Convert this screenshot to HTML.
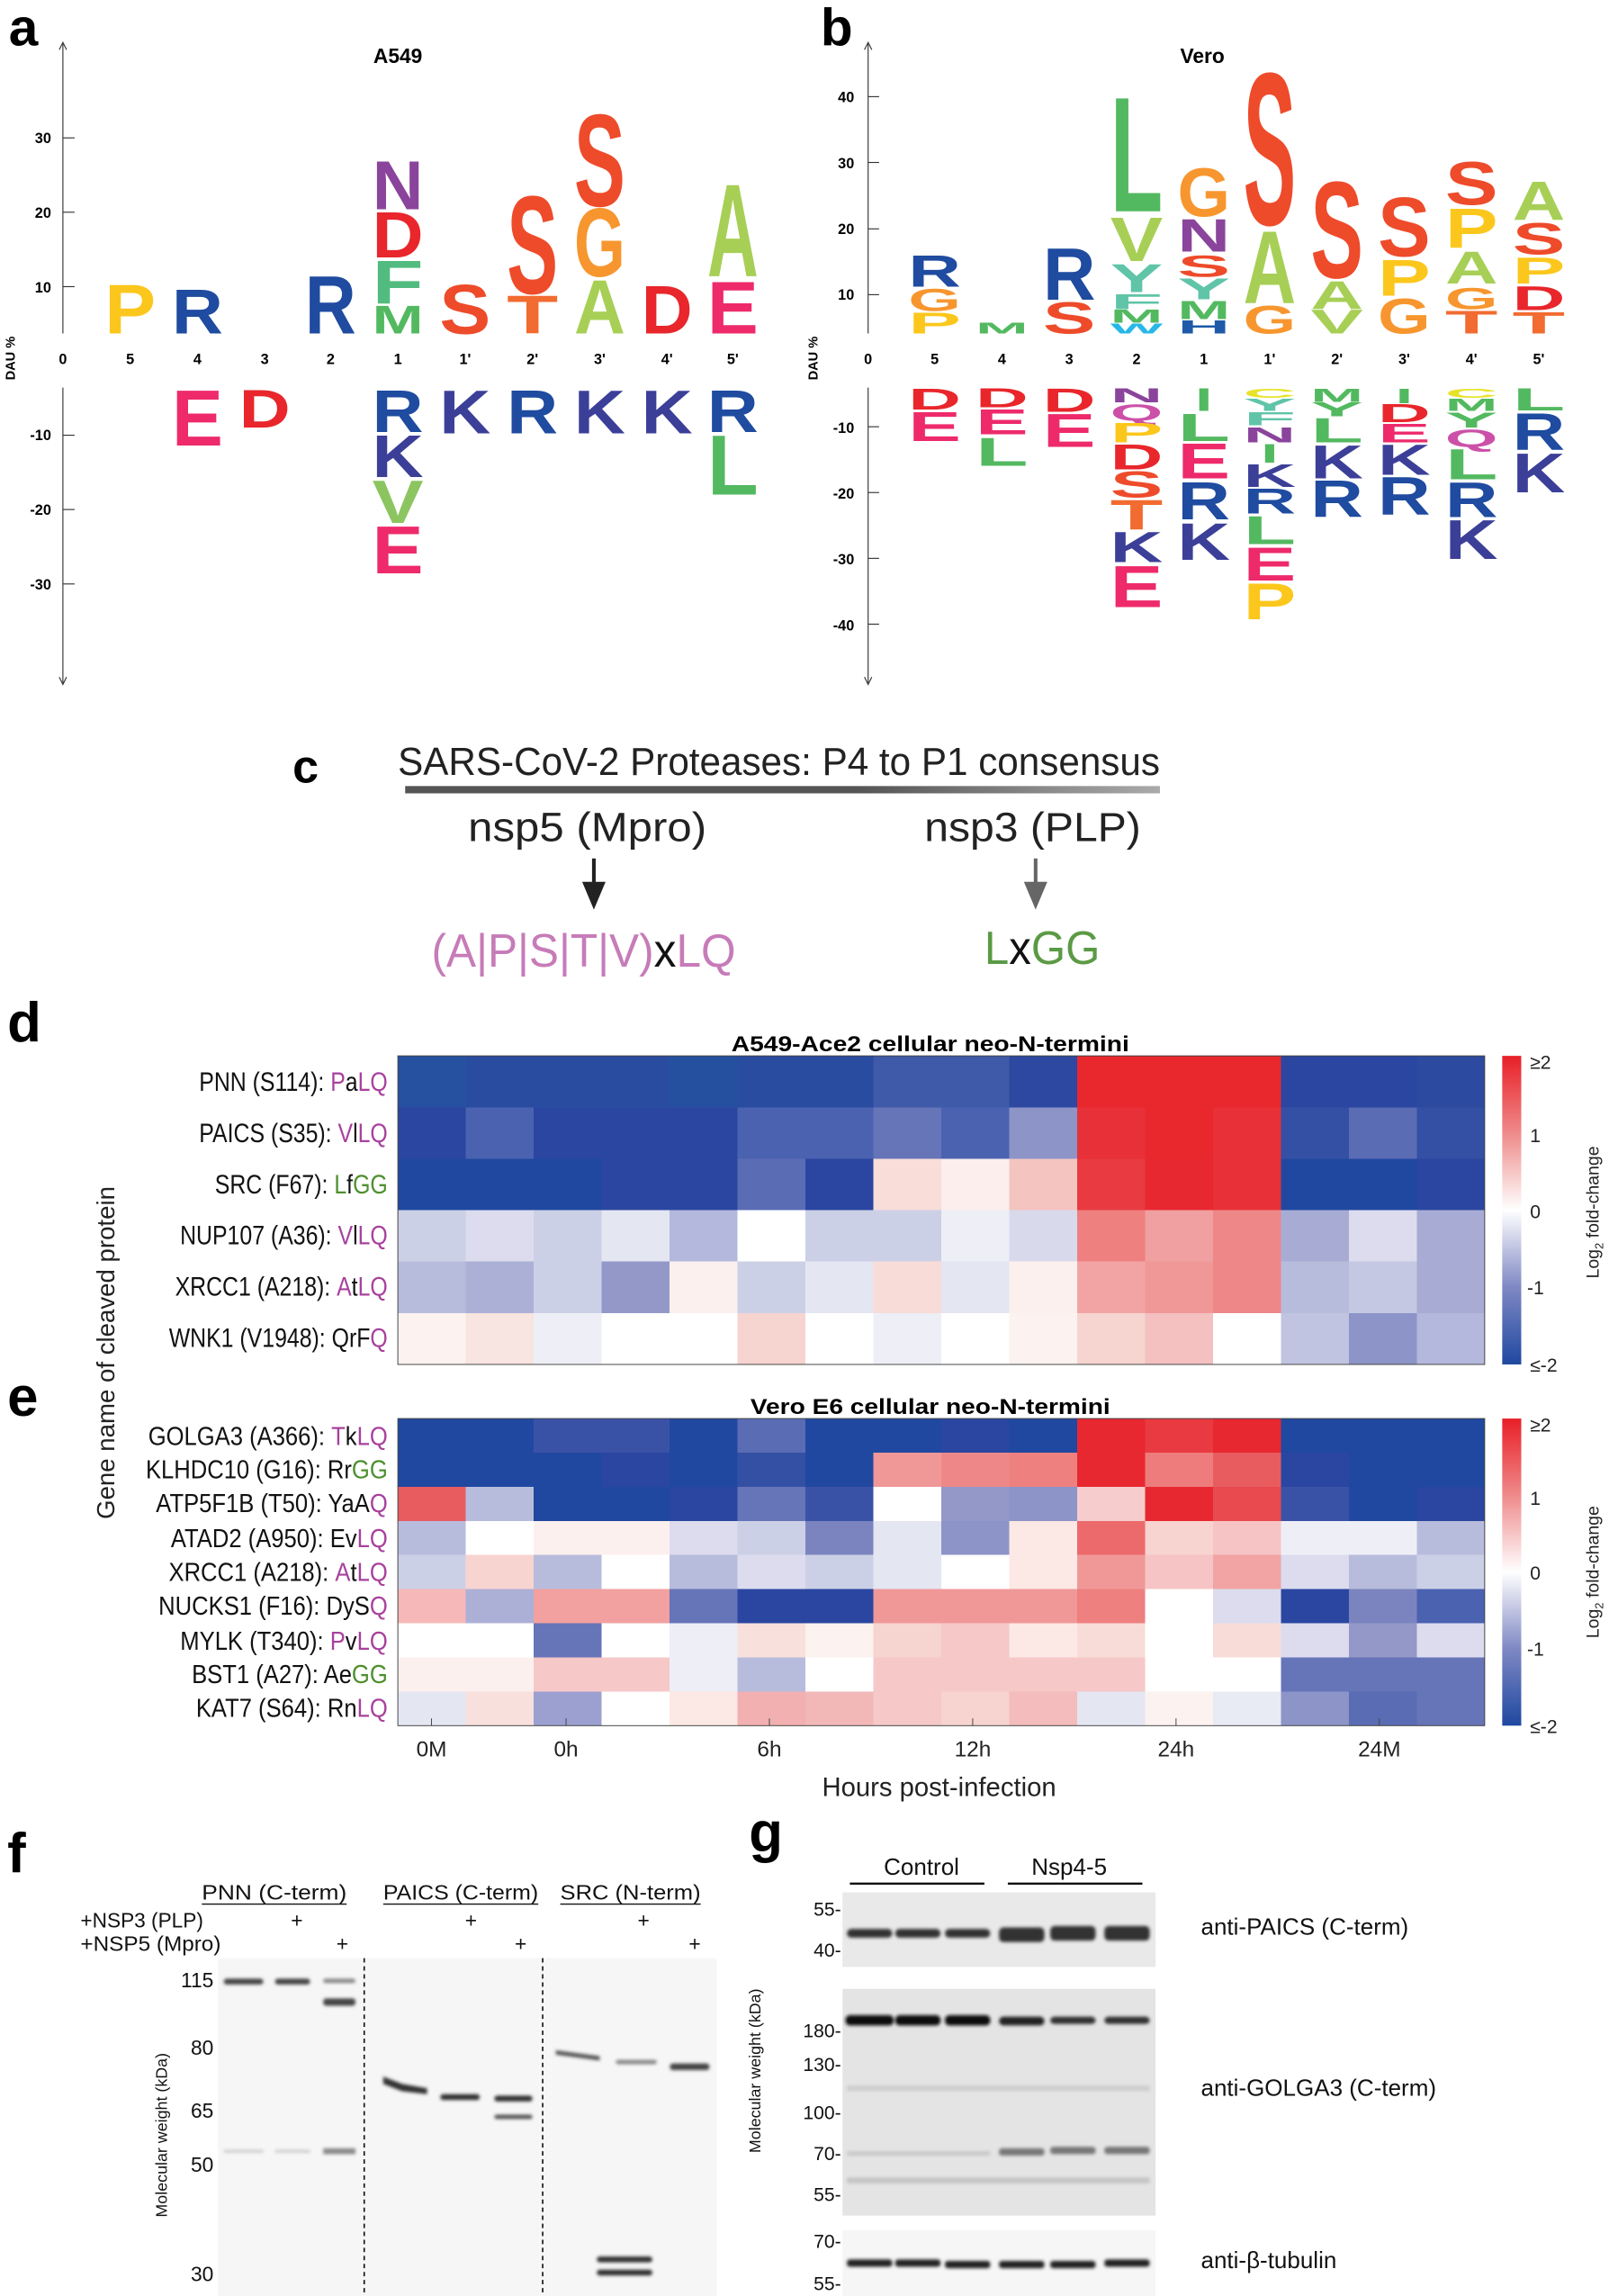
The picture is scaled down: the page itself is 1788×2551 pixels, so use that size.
<!DOCTYPE html>
<html><head><meta charset="utf-8"><style>
html,body{margin:0;padding:0;background:#fff}
svg{display:block}
.l{font-family:"Liberation Sans",sans-serif;font-weight:bold}
.t{font-family:"Liberation Sans",sans-serif}
</style></head><body>
<svg width="1788" height="2551" viewBox="0 0 1100 1570" preserveAspectRatio="none" xmlns="http://www.w3.org/2000/svg">
<defs>
<linearGradient id="cb" x1="0" y1="0" x2="0" y2="1"><stop offset="0" stop-color="#e81f27"/><stop offset="0.25" stop-color="#ef8a8a"/><stop offset="0.5" stop-color="#ffffff"/><stop offset="0.75" stop-color="#7f88c4"/><stop offset="1" stop-color="#1f48a0"/></linearGradient>
<linearGradient id="bar" x1="0" y1="0" x2="1" y2="0"><stop offset="0" stop-color="#555"/><stop offset="0.6" stop-color="#555"/><stop offset="1" stop-color="#aaa"/></linearGradient>
<filter id="bl" x="-20%" y="-200%" width="140%" height="500%"><feGaussianBlur stdDeviation="1.2"/></filter>
</defs>

<!-- Panel a -->
<text class="l" x="6" y="31" font-size="36">a</text>
<text class="l" x="272" y="43" font-size="14" text-anchor="middle">A549</text>
<g stroke="#333" stroke-width="0.7" fill="none">
<line x1="43" y1="30" x2="43" y2="228"/><line x1="43" y1="265" x2="43" y2="467"/>
<polyline points="40.5,34 43,29 45.5,34"/><polyline points="40.5,463 43,468 45.5,463"/>
<line x1="43" y1="94.3" x2="51" y2="94.3"/><line x1="43" y1="145.1" x2="51" y2="145.1"/><line x1="43" y1="196" x2="51" y2="196"/>
<line x1="43" y1="297.6" x2="51" y2="297.6"/><line x1="43" y1="348.4" x2="51" y2="348.4"/><line x1="43" y1="399.3" x2="51" y2="399.3"/>
</g>
<g class="l" font-size="10" text-anchor="end">
<text x="35" y="98">30</text><text x="35" y="149">20</text><text x="35" y="200">10</text>
<text x="35" y="301">-10</text><text x="35" y="352">-20</text><text x="35" y="403">-30</text>
</g>
<text class="l" font-size="9" transform="translate(10,245) rotate(-90)" text-anchor="middle">DAU %</text>
<g class="l" font-size="10" text-anchor="middle">
<text x="43" y="249">0</text><text x="89" y="249">5</text><text x="135" y="249">4</text><text x="181" y="249">3</text><text x="226" y="249">2</text><text x="272" y="249">1</text><text x="318" y="249">1'</text><text x="364" y="249">2'</text><text x="410" y="249">3'</text><text x="456" y="249">4'</text><text x="501" y="249">5'</text>
</g>
<g class="l">
<text x="71.5" y="228.1" font-size="48.1" textLength="35" lengthAdjust="spacingAndGlyphs" fill="#fcc71c">P</text>
<text x="117.5" y="228.1" font-size="43.3" textLength="35" lengthAdjust="spacingAndGlyphs" fill="#1f4ba0">R</text>
<text x="117.5" y="304.7" font-size="54" textLength="35" lengthAdjust="spacingAndGlyphs" fill="#ee2a6b">E</text>
<text x="163.5" y="292.4" font-size="36.9" textLength="35" lengthAdjust="spacingAndGlyphs" fill="#e8262b">D</text>
<text x="208.5" y="228.1" font-size="56.5" textLength="35" lengthAdjust="spacingAndGlyphs" fill="#1f4ba0">R</text>
<text x="254.5" y="228.1" font-size="27.6" textLength="35" lengthAdjust="spacingAndGlyphs" fill="#53b960">M</text>
<text x="254.5" y="207.6" font-size="42.5" textLength="35" lengthAdjust="spacingAndGlyphs" fill="#52bb7f">F</text>
<text x="254.5" y="176.1" font-size="44.7" textLength="35" lengthAdjust="spacingAndGlyphs" fill="#e8262b">D</text>
<text x="254.5" y="143" font-size="47.6" textLength="35" lengthAdjust="spacingAndGlyphs" fill="#8a449b">N</text>
<text x="254.5" y="295.5" font-size="41.3" textLength="35" lengthAdjust="spacingAndGlyphs" fill="#1f4ba0">R</text>
<text x="254.5" y="326.1" font-size="41.3" textLength="35" lengthAdjust="spacingAndGlyphs" fill="#3c3f98">K</text>
<text x="254.5" y="357.6" font-size="41.7" textLength="35" lengthAdjust="spacingAndGlyphs" fill="#8cc560">V</text>
<text x="254.5" y="391.9" font-size="46" textLength="35" lengthAdjust="spacingAndGlyphs" fill="#ee2a6b">E</text>
<text x="300.5" y="228.1" font-size="48" textLength="35" lengthAdjust="spacingAndGlyphs" fill="#ee4b2b">S</text>
<text x="300.5" y="296.4" font-size="42.5" textLength="35" lengthAdjust="spacingAndGlyphs" fill="#3c3f98">K</text>
<text x="346.5" y="228.1" font-size="37" textLength="35" lengthAdjust="spacingAndGlyphs" fill="#f26b30">T</text>
<text x="346.5" y="200.6" font-size="95.7" textLength="35" lengthAdjust="spacingAndGlyphs" fill="#ee4b2b">S</text>
<text x="346.5" y="296.4" font-size="42.5" textLength="35" lengthAdjust="spacingAndGlyphs" fill="#1f4ba0">R</text>
<text x="392.5" y="228.1" font-size="52.4" textLength="35" lengthAdjust="spacingAndGlyphs" fill="#a7cf56">A</text>
<text x="392.5" y="188.9" font-size="66.8" textLength="35" lengthAdjust="spacingAndGlyphs" fill="#f7962e">G</text>
<text x="392.5" y="140.8" font-size="90" textLength="35" lengthAdjust="spacingAndGlyphs" fill="#ee4b2b">S</text>
<text x="392.5" y="296.4" font-size="42.5" textLength="35" lengthAdjust="spacingAndGlyphs" fill="#3c3f98">K</text>
<text x="438.5" y="228.1" font-size="46.8" textLength="35" lengthAdjust="spacingAndGlyphs" fill="#e8262b">D</text>
<text x="438.5" y="296.4" font-size="42.5" textLength="35" lengthAdjust="spacingAndGlyphs" fill="#3c3f98">K</text>
<text x="483.5" y="228.1" font-size="51" textLength="35" lengthAdjust="spacingAndGlyphs" fill="#ee2a6b">E</text>
<text x="483.5" y="188.9" font-size="90.5" textLength="35" lengthAdjust="spacingAndGlyphs" fill="#a7cf56">A</text>
<text x="483.5" y="295.5" font-size="41.3" textLength="35" lengthAdjust="spacingAndGlyphs" fill="#1f4ba0">R</text>
<text x="483.5" y="338.3" font-size="58.2" textLength="35" lengthAdjust="spacingAndGlyphs" fill="#53b960">L</text>
</g>

<!-- Panel b -->
<text class="l" x="561" y="31" font-size="36">b</text>
<text class="l" x="822" y="43" font-size="14" text-anchor="middle">Vero</text>
<g stroke="#333" stroke-width="0.7" fill="none">
<line x1="593.5" y1="30" x2="593.5" y2="228"/><line x1="593.5" y1="265" x2="593.5" y2="467"/>
<polyline points="591,34 593.5,29 596,34"/><polyline points="591,463 593.5,468 596,463"/>
<line x1="593.5" y1="66.1" x2="601" y2="66.1"/><line x1="593.5" y1="111.1" x2="601" y2="111.1"/><line x1="593.5" y1="156.5" x2="601" y2="156.5"/><line x1="593.5" y1="201.5" x2="601" y2="201.5"/>
<line x1="593.5" y1="291.8" x2="601" y2="291.8"/><line x1="593.5" y1="336.8" x2="601" y2="336.8"/><line x1="593.5" y1="381.8" x2="601" y2="381.8"/><line x1="593.5" y1="426.8" x2="601" y2="426.8"/>
</g>
<g class="l" font-size="10" text-anchor="end">
<text x="584" y="70">40</text><text x="584" y="115">30</text><text x="584" y="160">20</text><text x="584" y="205">10</text>
<text x="584" y="296">-10</text><text x="584" y="341">-20</text><text x="584" y="386">-30</text><text x="584" y="431">-40</text>
</g>
<text class="l" font-size="9" transform="translate(559,245) rotate(-90)" text-anchor="middle">DAU %</text>
<g class="l" font-size="10" text-anchor="middle">
<text x="593.5" y="249">0</text><text x="639" y="249">5</text><text x="685" y="249">4</text><text x="731" y="249">3</text><text x="777" y="249">2</text><text x="823" y="249">1</text><text x="868" y="249">1'</text><text x="914" y="249">2'</text><text x="960" y="249">3'</text><text x="1006" y="249">4'</text><text x="1052" y="249">5'</text>
</g>
<g class="l">
<text x="621" y="228.1" font-size="20.4" textLength="36" lengthAdjust="spacingAndGlyphs" fill="#fcc71c">P</text>
<text x="621" y="212.5" font-size="21.7" textLength="36" lengthAdjust="spacingAndGlyphs" fill="#f7962e">G</text>
<text x="621" y="196" font-size="30.7" textLength="36" lengthAdjust="spacingAndGlyphs" fill="#1f4ba0">R</text>
<text x="621" y="279.9" font-size="20.4" textLength="36" lengthAdjust="spacingAndGlyphs" fill="#e8262b">D</text>
<text x="621" y="301.6" font-size="28.5" textLength="36" lengthAdjust="spacingAndGlyphs" fill="#ee2a6b">E</text>
<text x="667" y="228.1" font-size="10.6" textLength="36" lengthAdjust="spacingAndGlyphs" fill="#53b960">M</text>
<text x="667" y="278.6" font-size="18.6" textLength="36" lengthAdjust="spacingAndGlyphs" fill="#e8262b">D</text>
<text x="667" y="297" font-size="24.3" textLength="36" lengthAdjust="spacingAndGlyphs" fill="#ee2a6b">E</text>
<text x="667" y="318.4" font-size="27.6" textLength="36" lengthAdjust="spacingAndGlyphs" fill="#53b960">L</text>
<text x="713" y="228.1" font-size="31" textLength="36" lengthAdjust="spacingAndGlyphs" fill="#ee4b2b">S</text>
<text x="713" y="205.1" font-size="50.6" textLength="36" lengthAdjust="spacingAndGlyphs" fill="#1f4ba0">R</text>
<text x="713" y="281.7" font-size="22.9" textLength="36" lengthAdjust="spacingAndGlyphs" fill="#e8262b">D</text>
<text x="713" y="305.6" font-size="32.4" textLength="36" lengthAdjust="spacingAndGlyphs" fill="#ee2a6b">E</text>
<text x="759" y="228.1" font-size="9.7" textLength="36" lengthAdjust="spacingAndGlyphs" fill="#27b7e8">W</text>
<text x="759" y="220.5" font-size="12.8" textLength="36" lengthAdjust="spacingAndGlyphs" fill="#53b960">M</text>
<text x="759" y="211.3" font-size="14.9" textLength="36" lengthAdjust="spacingAndGlyphs" fill="#5fc4a8">F</text>
<text x="759" y="199.6" font-size="27.6" textLength="36" lengthAdjust="spacingAndGlyphs" fill="#5fc4a8">Y</text>
<text x="759" y="178.5" font-size="42.9" textLength="36" lengthAdjust="spacingAndGlyphs" fill="#a7cf56">V</text>
<text x="759" y="144.5" font-size="112.2" textLength="36" lengthAdjust="spacingAndGlyphs" fill="#53b960">L</text>
<text x="759" y="275" font-size="13.6" textLength="36" lengthAdjust="spacingAndGlyphs" fill="#8a449b">N</text>
<text x="759" y="287.8" font-size="16.1" textLength="36" lengthAdjust="spacingAndGlyphs" fill="#cc50a8">Q</text>
<text x="759" y="302.5" font-size="19.6" textLength="36" lengthAdjust="spacingAndGlyphs" fill="#fcc71c">P</text>
<text x="759" y="320.9" font-size="24.7" textLength="36" lengthAdjust="spacingAndGlyphs" fill="#e8262b">D</text>
<text x="759" y="339.9" font-size="25.6" textLength="36" lengthAdjust="spacingAndGlyphs" fill="#ee4b2b">S</text>
<text x="759" y="362.2" font-size="29.3" textLength="36" lengthAdjust="spacingAndGlyphs" fill="#f26b30">T</text>
<text x="759" y="384.3" font-size="29.9" textLength="36" lengthAdjust="spacingAndGlyphs" fill="#3c3f98">K</text>
<text x="759" y="415.2" font-size="40.8" textLength="36" lengthAdjust="spacingAndGlyphs" fill="#ee2a6b">E</text>
<text x="805" y="228.1" font-size="12.8" textLength="36" lengthAdjust="spacingAndGlyphs" fill="#1e5aa8">H</text>
<text x="805" y="218.3" font-size="17.8" textLength="36" lengthAdjust="spacingAndGlyphs" fill="#53b960">M</text>
<text x="805" y="204.5" font-size="20.4" textLength="36" lengthAdjust="spacingAndGlyphs" fill="#5fc4a8">Y</text>
<text x="805" y="189.2" font-size="21.3" textLength="36" lengthAdjust="spacingAndGlyphs" fill="#ee4b2b">S</text>
<text x="805" y="172.1" font-size="31.9" textLength="36" lengthAdjust="spacingAndGlyphs" fill="#8a449b">N</text>
<text x="805" y="147.9" font-size="47.2" textLength="36" lengthAdjust="spacingAndGlyphs" fill="#f7962e">G</text>
<text x="817" y="281.1" font-size="22.1" textLength="12" lengthAdjust="spacingAndGlyphs" fill="#53b960">I</text>
<text x="805" y="301.6" font-size="26.8" textLength="36" lengthAdjust="spacingAndGlyphs" fill="#53b960">L</text>
<text x="805" y="327" font-size="34" textLength="36" lengthAdjust="spacingAndGlyphs" fill="#ee2a6b">E</text>
<text x="805" y="355.2" font-size="36.3" textLength="36" lengthAdjust="spacingAndGlyphs" fill="#1f4ba0">R</text>
<text x="805" y="382.7" font-size="36.1" textLength="36" lengthAdjust="spacingAndGlyphs" fill="#3c3f98">K</text>
<text x="850" y="228.1" font-size="27.6" textLength="36" lengthAdjust="spacingAndGlyphs" fill="#f7962e">G</text>
<text x="850" y="207.3" font-size="70.6" textLength="36" lengthAdjust="spacingAndGlyphs" fill="#a7cf56">A</text>
<text x="850" y="153.4" font-size="148.9" textLength="36" lengthAdjust="spacingAndGlyphs" fill="#ee4b2b">S</text>
<text x="850" y="271.9" font-size="9.3" textLength="36" lengthAdjust="spacingAndGlyphs" fill="#e6e32a">C</text>
<text x="850" y="281.1" font-size="11.9" textLength="36" lengthAdjust="spacingAndGlyphs" fill="#5fc4a8">Y</text>
<text x="850" y="290.9" font-size="12.8" textLength="36" lengthAdjust="spacingAndGlyphs" fill="#5fc4a8">F</text>
<text x="850" y="302.5" font-size="14.9" textLength="36" lengthAdjust="spacingAndGlyphs" fill="#8a449b">N</text>
<text x="862" y="316.3" font-size="18.3" textLength="12" lengthAdjust="spacingAndGlyphs" fill="#53b960">I</text>
<text x="850" y="333.1" font-size="22.1" textLength="36" lengthAdjust="spacingAndGlyphs" fill="#3c3f98">K</text>
<text x="850" y="351.2" font-size="24.3" textLength="36" lengthAdjust="spacingAndGlyphs" fill="#1f4ba0">R</text>
<text x="850" y="372" font-size="27.6" textLength="36" lengthAdjust="spacingAndGlyphs" fill="#53b960">L</text>
<text x="850" y="397.1" font-size="32.8" textLength="36" lengthAdjust="spacingAndGlyphs" fill="#ee2a6b">E</text>
<text x="850" y="423.5" font-size="35.4" textLength="36" lengthAdjust="spacingAndGlyphs" fill="#fcc71c">P</text>
<text x="896" y="228.1" font-size="23.3" textLength="36" lengthAdjust="spacingAndGlyphs" fill="#a7cf56">V</text>
<text x="896" y="211.3" font-size="27.6" textLength="36" lengthAdjust="spacingAndGlyphs" fill="#a7cf56">A</text>
<text x="896" y="189.8" font-size="94.3" textLength="36" lengthAdjust="spacingAndGlyphs" fill="#ee4b2b">S</text>
<text x="896" y="274.7" font-size="13.2" textLength="36" lengthAdjust="spacingAndGlyphs" fill="#53b960">M</text>
<text x="896" y="284.8" font-size="13.6" textLength="36" lengthAdjust="spacingAndGlyphs" fill="#53b960">Y</text>
<text x="896" y="302.5" font-size="23.8" textLength="36" lengthAdjust="spacingAndGlyphs" fill="#53b960">L</text>
<text x="896" y="327" font-size="32.4" textLength="36" lengthAdjust="spacingAndGlyphs" fill="#3c3f98">K</text>
<text x="896" y="353.6" font-size="36.1" textLength="36" lengthAdjust="spacingAndGlyphs" fill="#1f4ba0">R</text>
<text x="942" y="228.1" font-size="34" textLength="36" lengthAdjust="spacingAndGlyphs" fill="#f7962e">G</text>
<text x="942" y="202.1" font-size="35.3" textLength="36" lengthAdjust="spacingAndGlyphs" fill="#fcc71c">P</text>
<text x="942" y="175.1" font-size="57.4" textLength="36" lengthAdjust="spacingAndGlyphs" fill="#ee4b2b">S</text>
<text x="954" y="275.6" font-size="14.4" textLength="12" lengthAdjust="spacingAndGlyphs" fill="#53b960">I</text>
<text x="942" y="288.7" font-size="17.4" textLength="36" lengthAdjust="spacingAndGlyphs" fill="#e8262b">D</text>
<text x="942" y="302.5" font-size="18.3" textLength="36" lengthAdjust="spacingAndGlyphs" fill="#ee2a6b">E</text>
<text x="942" y="324.6" font-size="29.9" textLength="36" lengthAdjust="spacingAndGlyphs" fill="#3c3f98">K</text>
<text x="942" y="352.1" font-size="36.9" textLength="36" lengthAdjust="spacingAndGlyphs" fill="#1f4ba0">R</text>
<text x="988" y="228.1" font-size="22.1" textLength="36" lengthAdjust="spacingAndGlyphs" fill="#f26b30">T</text>
<text x="988" y="211.3" font-size="21.3" textLength="36" lengthAdjust="spacingAndGlyphs" fill="#f7962e">G</text>
<text x="988" y="193.8" font-size="31.4" textLength="36" lengthAdjust="spacingAndGlyphs" fill="#a7cf56">A</text>
<text x="988" y="169.6" font-size="39" textLength="36" lengthAdjust="spacingAndGlyphs" fill="#fcc71c">P</text>
<text x="988" y="139.9" font-size="42.1" textLength="36" lengthAdjust="spacingAndGlyphs" fill="#ee4b2b">S</text>
<text x="988" y="271.9" font-size="9.3" textLength="36" lengthAdjust="spacingAndGlyphs" fill="#e6e32a">C</text>
<text x="988" y="281.1" font-size="11.9" textLength="36" lengthAdjust="spacingAndGlyphs" fill="#53b960">M</text>
<text x="988" y="292.4" font-size="14.9" textLength="36" lengthAdjust="spacingAndGlyphs" fill="#53b960">Y</text>
<text x="988" y="305.6" font-size="17.1" textLength="36" lengthAdjust="spacingAndGlyphs" fill="#cc50a8">Q</text>
<text x="988" y="327.6" font-size="29.7" textLength="36" lengthAdjust="spacingAndGlyphs" fill="#53b960">L</text>
<text x="988" y="353.6" font-size="34" textLength="36" lengthAdjust="spacingAndGlyphs" fill="#1f4ba0">R</text>
<text x="988" y="382.1" font-size="38.2" textLength="36" lengthAdjust="spacingAndGlyphs" fill="#3c3f98">K</text>
<text x="1034" y="228.1" font-size="21.3" textLength="36" lengthAdjust="spacingAndGlyphs" fill="#f26b30">T</text>
<text x="1034" y="211.9" font-size="23.5" textLength="36" lengthAdjust="spacingAndGlyphs" fill="#e8262b">D</text>
<text x="1034" y="193.8" font-size="25.6" textLength="36" lengthAdjust="spacingAndGlyphs" fill="#fcc71c">P</text>
<text x="1034" y="173.9" font-size="31" textLength="36" lengthAdjust="spacingAndGlyphs" fill="#ee4b2b">S</text>
<text x="1034" y="150.6" font-size="37.4" textLength="36" lengthAdjust="spacingAndGlyphs" fill="#a7cf56">A</text>
<text x="1034" y="280.8" font-size="21.7" textLength="36" lengthAdjust="spacingAndGlyphs" fill="#53b960">L</text>
<text x="1034" y="307.7" font-size="36.1" textLength="36" lengthAdjust="spacingAndGlyphs" fill="#1f4ba0">R</text>
<text x="1034" y="336.8" font-size="38.2" textLength="36" lengthAdjust="spacingAndGlyphs" fill="#3c3f98">K</text>
</g>

<!-- Panel c -->
<text class="l" x="200" y="535" font-size="32">c</text>
<text class="t" x="272" y="530" font-size="27" textLength="521" lengthAdjust="spacingAndGlyphs" fill="#222">SARS-CoV-2 Proteases: P4 to P1 consensus</text>
<rect x="277" y="537.5" width="516" height="5" fill="url(#bar)"/>
<text class="t" x="320" y="575" font-size="28" textLength="163" lengthAdjust="spacingAndGlyphs" fill="#222">nsp5 (Mpro)</text>
<text class="t" x="632" y="575" font-size="28" textLength="148" lengthAdjust="spacingAndGlyphs" fill="#222">nsp3 (PLP)</text>
<line x1="406" y1="587" x2="406" y2="606" stroke="#222" stroke-width="2.5"/>
<polygon points="398,603 414,603 406,622" fill="#222"/>
<line x1="708" y1="587" x2="708" y2="606" stroke="#666" stroke-width="2.5"/>
<polygon points="700,603 716,603 708,622" fill="#666"/>
<text class="t" x="295" y="661" font-size="32" textLength="208" lengthAdjust="spacingAndGlyphs" fill="#c77bb8">(A|P|S|T|V)<tspan fill="#111">x</tspan>LQ</text>
<text class="t" x="673" y="659" font-size="32" textLength="79" lengthAdjust="spacingAndGlyphs" fill="#5b9a45">L<tspan fill="#111">x</tspan>GG</text>

<!-- Panel d -->
<text class="l" x="5" y="712" font-size="38">d</text>
<text class="l" x="636" y="719" font-size="15" text-anchor="middle" textLength="272" lengthAdjust="spacingAndGlyphs">A549-Ace2 cellular neo-N-termini</text>
<g shape-rendering="crispEdges">
<g transform="translate(0,722)">
<rect x="272" width="46.6" height="35.3" fill="#2650a0"/><rect x="318.44" width="46.6" height="35.3" fill="#2a4ca0"/><rect x="364.88" width="46.6" height="35.3" fill="#2a4ca0"/><rect x="411.31" width="46.6" height="35.3" fill="#2a4ca0"/><rect x="457.75" width="46.6" height="35.3" fill="#2550a0"/><rect x="504.19" width="46.6" height="35.3" fill="#2a4ca0"/><rect x="550.63" width="46.6" height="35.3" fill="#2a4ca0"/><rect x="597.06" width="46.6" height="35.3" fill="#3e5aa8"/><rect x="643.5" width="46.6" height="35.3" fill="#3e5aa8"/><rect x="689.94" width="46.6" height="35.3" fill="#2c48a0"/><rect x="736.38" width="46.6" height="35.3" fill="#e8282c"/><rect x="782.81" width="46.6" height="35.3" fill="#e8282c"/><rect x="829.25" width="46.6" height="35.3" fill="#e8282c"/><rect x="875.69" width="46.6" height="35.3" fill="#2a46a0"/><rect x="922.13" width="46.6" height="35.3" fill="#2a46a0"/><rect x="968.56" width="46.44" height="35.3" fill="#2c4aa0"/>
</g>
<g transform="translate(0,757.17)">
<rect x="272" width="46.6" height="35.3" fill="#2a46a0"/><rect x="318.44" width="46.6" height="35.3" fill="#4a62b0"/><rect x="364.88" width="46.6" height="35.3" fill="#2a46a0"/><rect x="411.31" width="46.6" height="35.3" fill="#2a46a0"/><rect x="457.75" width="46.6" height="35.3" fill="#2a46a0"/><rect x="504.19" width="46.6" height="35.3" fill="#4a62b0"/><rect x="550.63" width="46.6" height="35.3" fill="#4a62b0"/><rect x="597.06" width="46.6" height="35.3" fill="#6674b8"/><rect x="643.5" width="46.6" height="35.3" fill="#4a62b0"/><rect x="689.94" width="46.6" height="35.3" fill="#8c94c8"/><rect x="736.38" width="46.6" height="35.3" fill="#e83038"/><rect x="782.81" width="46.6" height="35.3" fill="#e8282c"/><rect x="829.25" width="46.6" height="35.3" fill="#e83038"/><rect x="875.69" width="46.6" height="35.3" fill="#3450a4"/><rect x="922.13" width="46.6" height="35.3" fill="#5a6cb4"/><rect x="968.56" width="46.44" height="35.3" fill="#3450a4"/>
</g>
<g transform="translate(0,792.33)">
<rect x="272" width="46.6" height="35.3" fill="#2048a0"/><rect x="318.44" width="46.6" height="35.3" fill="#2048a0"/><rect x="364.88" width="46.6" height="35.3" fill="#2048a0"/><rect x="411.31" width="46.6" height="35.3" fill="#2a46a0"/><rect x="457.75" width="46.6" height="35.3" fill="#2a46a0"/><rect x="504.19" width="46.6" height="35.3" fill="#5a6cb4"/><rect x="550.63" width="46.6" height="35.3" fill="#2a46a0"/><rect x="597.06" width="46.6" height="35.3" fill="#f8ddd8"/><rect x="643.5" width="46.6" height="35.3" fill="#fbeeec"/><rect x="689.94" width="46.6" height="35.3" fill="#f4c4c0"/><rect x="736.38" width="46.6" height="35.3" fill="#e83a40"/><rect x="782.81" width="46.6" height="35.3" fill="#e82830"/><rect x="829.25" width="46.6" height="35.3" fill="#e83038"/><rect x="875.69" width="46.6" height="35.3" fill="#2048a0"/><rect x="922.13" width="46.6" height="35.3" fill="#2048a0"/><rect x="968.56" width="46.44" height="35.3" fill="#2a46a0"/>
</g>
<g transform="translate(0,827.5)">
<rect x="272" width="46.6" height="35.3" fill="#ccd0e6"/><rect x="318.44" width="46.6" height="35.3" fill="#dcdcee"/><rect x="364.88" width="46.6" height="35.3" fill="#ccd0e6"/><rect x="411.31" width="46.6" height="35.3" fill="#e4e6f2"/><rect x="457.75" width="46.6" height="35.3" fill="#b4b8dc"/><rect x="504.19" width="46.6" height="35.3" fill="#ffffff"/><rect x="550.63" width="46.6" height="35.3" fill="#ccd0e6"/><rect x="597.06" width="46.6" height="35.3" fill="#ccd0e6"/><rect x="643.5" width="46.6" height="35.3" fill="#eeeff6"/><rect x="689.94" width="46.6" height="35.3" fill="#d8daec"/><rect x="736.38" width="46.6" height="35.3" fill="#ee8080"/><rect x="782.81" width="46.6" height="35.3" fill="#f0a0a0"/><rect x="829.25" width="46.6" height="35.3" fill="#ee8888"/><rect x="875.69" width="46.6" height="35.3" fill="#a8acd4"/><rect x="922.13" width="46.6" height="35.3" fill="#dcdcee"/><rect x="968.56" width="46.44" height="35.3" fill="#a8acd4"/>
</g>
<g transform="translate(0,862.67)">
<rect x="272" width="46.6" height="35.3" fill="#b8bcdc"/><rect x="318.44" width="46.6" height="35.3" fill="#acb0d6"/><rect x="364.88" width="46.6" height="35.3" fill="#ccd0e6"/><rect x="411.31" width="46.6" height="35.3" fill="#9498c8"/><rect x="457.75" width="46.6" height="35.3" fill="#fbf0ee"/><rect x="504.19" width="46.6" height="35.3" fill="#ccd0e6"/><rect x="550.63" width="46.6" height="35.3" fill="#e4e6f2"/><rect x="597.06" width="46.6" height="35.3" fill="#f8dcd8"/><rect x="643.5" width="46.6" height="35.3" fill="#e4e6f2"/><rect x="689.94" width="46.6" height="35.3" fill="#fcf0ee"/><rect x="736.38" width="46.6" height="35.3" fill="#f2a4a4"/><rect x="782.81" width="46.6" height="35.3" fill="#f09898"/><rect x="829.25" width="46.6" height="35.3" fill="#ee8888"/><rect x="875.69" width="46.6" height="35.3" fill="#b8bcdc"/><rect x="922.13" width="46.6" height="35.3" fill="#c4c8e2"/><rect x="968.56" width="46.44" height="35.3" fill="#a8acd4"/>
</g>
<g transform="translate(0,897.83)">
<rect x="272" width="46.6" height="35.17" fill="#fcf2f0"/><rect x="318.44" width="46.6" height="35.17" fill="#f8e4e0"/><rect x="364.88" width="46.6" height="35.17" fill="#eeeff6"/><rect x="411.31" width="46.6" height="35.17" fill="#ffffff"/><rect x="457.75" width="46.6" height="35.17" fill="#ffffff"/><rect x="504.19" width="46.6" height="35.17" fill="#f6d4d0"/><rect x="550.63" width="46.6" height="35.17" fill="#ffffff"/><rect x="597.06" width="46.6" height="35.17" fill="#eeeff6"/><rect x="643.5" width="46.6" height="35.17" fill="#ffffff"/><rect x="689.94" width="46.6" height="35.17" fill="#fcf2f0"/><rect x="736.38" width="46.6" height="35.17" fill="#f6d4d0"/><rect x="782.81" width="46.6" height="35.17" fill="#f4c0c0"/><rect x="829.25" width="46.6" height="35.17" fill="#ffffff"/><rect x="875.69" width="46.6" height="35.17" fill="#c0c4e0"/><rect x="922.13" width="46.6" height="35.17" fill="#8c94c8"/><rect x="968.56" width="46.44" height="35.17" fill="#b4b8dc"/>
</g>
</g>
<rect x="272" y="722" width="743" height="211" fill="none" stroke="#444" stroke-width="0.6"/>
<rect x="1027" y="722" width="13" height="211" fill="url(#cb)"/>
<g class="t" font-size="13" fill="#222">
<text x="1046" y="731">≥2</text><text x="1046" y="781">1</text><text x="1046" y="833">0</text><text x="1044" y="885">-1</text><text x="1046" y="938">≤-2</text>
</g>
<text class="t" font-size="12" fill="#222" transform="translate(1093,829) rotate(-90)" text-anchor="middle">Log<tspan font-size="8" dy="3">2</tspan><tspan dy="-3"> fold-change</tspan></text>

<g class="t" font-size="18" fill="#111" text-anchor="end">
<g transform="translate(265,746) scale(0.85,1)"><text>PNN (S114): <tspan fill="#a8419d">P</tspan>a<tspan fill="#a8419d">LQ</tspan></text></g>
<g transform="translate(265,781) scale(0.85,1)"><text>PAICS (S35): <tspan fill="#a8419d">V</tspan>l<tspan fill="#a8419d">LQ</tspan></text></g>
<g transform="translate(265,816) scale(0.85,1)"><text>SRC (F67): <tspan fill="#4e8f2e">L</tspan>f<tspan fill="#4e8f2e">GG</tspan></text></g>
<g transform="translate(265,851) scale(0.85,1)"><text>NUP107 (A36): <tspan fill="#a8419d">V</tspan>l<tspan fill="#a8419d">LQ</tspan></text></g>
<g transform="translate(265,886) scale(0.85,1)"><text>XRCC1 (A218): <tspan fill="#a8419d">A</tspan>t<tspan fill="#a8419d">LQ</tspan></text></g>
<g transform="translate(265,921) scale(0.85,1)"><text>WNK1 (V1948): QrF<tspan fill="#a8419d">Q</tspan></text></g>
</g>

<!-- Panel e -->
<text class="l" x="5" y="968" font-size="38">e</text>
<text class="l" x="636" y="967" font-size="15" text-anchor="middle" textLength="246" lengthAdjust="spacingAndGlyphs">Vero E6 cellular neo-N-termini</text>
<g shape-rendering="crispEdges">
<g transform="translate(0,970)">
<rect x="272" width="46.6" height="23.5" fill="#2048a0"/><rect x="318.44" width="46.6" height="23.5" fill="#2048a0"/><rect x="364.88" width="46.6" height="23.5" fill="#3a52a6"/><rect x="411.31" width="46.6" height="23.5" fill="#3a52a6"/><rect x="457.75" width="46.6" height="23.5" fill="#2048a0"/><rect x="504.19" width="46.6" height="23.5" fill="#5a6cb4"/><rect x="550.63" width="46.6" height="23.5" fill="#2048a0"/><rect x="597.06" width="46.6" height="23.5" fill="#2048a0"/><rect x="643.5" width="46.6" height="23.5" fill="#2a46a0"/><rect x="689.94" width="46.6" height="23.5" fill="#2048a0"/><rect x="736.38" width="46.6" height="23.5" fill="#e82830"/><rect x="782.81" width="46.6" height="23.5" fill="#e83a40"/><rect x="829.25" width="46.6" height="23.5" fill="#e82830"/><rect x="875.69" width="46.6" height="23.5" fill="#2048a0"/><rect x="922.13" width="46.6" height="23.5" fill="#2048a0"/><rect x="968.56" width="46.44" height="23.5" fill="#2048a0"/>
</g>
<g transform="translate(0,993.33)">
<rect x="272" width="46.6" height="23.5" fill="#2048a0"/><rect x="318.44" width="46.6" height="23.5" fill="#2048a0"/><rect x="364.88" width="46.6" height="23.5" fill="#2048a0"/><rect x="411.31" width="46.6" height="23.5" fill="#2a46a0"/><rect x="457.75" width="46.6" height="23.5" fill="#2048a0"/><rect x="504.19" width="46.6" height="23.5" fill="#3450a4"/><rect x="550.63" width="46.6" height="23.5" fill="#2048a0"/><rect x="597.06" width="46.6" height="23.5" fill="#f09898"/><rect x="643.5" width="46.6" height="23.5" fill="#ee8888"/><rect x="689.94" width="46.6" height="23.5" fill="#ee8080"/><rect x="736.38" width="46.6" height="23.5" fill="#e82830"/><rect x="782.81" width="46.6" height="23.5" fill="#ee7c7c"/><rect x="829.25" width="46.6" height="23.5" fill="#e85c60"/><rect x="875.69" width="46.6" height="23.5" fill="#2a46a0"/><rect x="922.13" width="46.6" height="23.5" fill="#2048a0"/><rect x="968.56" width="46.44" height="23.5" fill="#2048a0"/>
</g>
<g transform="translate(0,1016.67)">
<rect x="272" width="46.6" height="23.5" fill="#e85c60"/><rect x="318.44" width="46.6" height="23.5" fill="#b8bcdc"/><rect x="364.88" width="46.6" height="23.5" fill="#2048a0"/><rect x="411.31" width="46.6" height="23.5" fill="#2048a0"/><rect x="457.75" width="46.6" height="23.5" fill="#2a46a0"/><rect x="504.19" width="46.6" height="23.5" fill="#6674b8"/><rect x="550.63" width="46.6" height="23.5" fill="#3a52a6"/><rect x="597.06" width="46.6" height="23.5" fill="#ffffff"/><rect x="643.5" width="46.6" height="23.5" fill="#9498c8"/><rect x="689.94" width="46.6" height="23.5" fill="#8c94c8"/><rect x="736.38" width="46.6" height="23.5" fill="#f6cccc"/><rect x="782.81" width="46.6" height="23.5" fill="#e82830"/><rect x="829.25" width="46.6" height="23.5" fill="#e84a50"/><rect x="875.69" width="46.6" height="23.5" fill="#3a52a6"/><rect x="922.13" width="46.6" height="23.5" fill="#2048a0"/><rect x="968.56" width="46.44" height="23.5" fill="#2a46a0"/>
</g>
<g transform="translate(0,1040)">
<rect x="272" width="46.6" height="23.5" fill="#b8bcdc"/><rect x="318.44" width="46.6" height="23.5" fill="#ffffff"/><rect x="364.88" width="46.6" height="23.5" fill="#fcf0ee"/><rect x="411.31" width="46.6" height="23.5" fill="#fcf0ee"/><rect x="457.75" width="46.6" height="23.5" fill="#dcdcee"/><rect x="504.19" width="46.6" height="23.5" fill="#ccd0e6"/><rect x="550.63" width="46.6" height="23.5" fill="#7c84c0"/><rect x="597.06" width="46.6" height="23.5" fill="#e4e6f2"/><rect x="643.5" width="46.6" height="23.5" fill="#8c94c8"/><rect x="689.94" width="46.6" height="23.5" fill="#fce8e4"/><rect x="736.38" width="46.6" height="23.5" fill="#ec6a6c"/><rect x="782.81" width="46.6" height="23.5" fill="#f8d4d0"/><rect x="829.25" width="46.6" height="23.5" fill="#f6c4c4"/><rect x="875.69" width="46.6" height="23.5" fill="#eeeff6"/><rect x="922.13" width="46.6" height="23.5" fill="#eeeff6"/><rect x="968.56" width="46.44" height="23.5" fill="#b8bcdc"/>
</g>
<g transform="translate(0,1063.33)">
<rect x="272" width="46.6" height="23.5" fill="#ccd0e6"/><rect x="318.44" width="46.6" height="23.5" fill="#f8d4d0"/><rect x="364.88" width="46.6" height="23.5" fill="#b8bcdc"/><rect x="411.31" width="46.6" height="23.5" fill="#ffffff"/><rect x="457.75" width="46.6" height="23.5" fill="#b8bcdc"/><rect x="504.19" width="46.6" height="23.5" fill="#dcdcee"/><rect x="550.63" width="46.6" height="23.5" fill="#ccd0e6"/><rect x="597.06" width="46.6" height="23.5" fill="#e4e6f2"/><rect x="643.5" width="46.6" height="23.5" fill="#ffffff"/><rect x="689.94" width="46.6" height="23.5" fill="#fce8e4"/><rect x="736.38" width="46.6" height="23.5" fill="#f09898"/><rect x="782.81" width="46.6" height="23.5" fill="#f6c4c4"/><rect x="829.25" width="46.6" height="23.5" fill="#f2a4a4"/><rect x="875.69" width="46.6" height="23.5" fill="#dcdcee"/><rect x="922.13" width="46.6" height="23.5" fill="#b8bcdc"/><rect x="968.56" width="46.44" height="23.5" fill="#ccd0e6"/>
</g>
<g transform="translate(0,1086.67)">
<rect x="272" width="46.6" height="23.5" fill="#f6b8b8"/><rect x="318.44" width="46.6" height="23.5" fill="#acb0d6"/><rect x="364.88" width="46.6" height="23.5" fill="#f2a0a0"/><rect x="411.31" width="46.6" height="23.5" fill="#f2a0a0"/><rect x="457.75" width="46.6" height="23.5" fill="#6674b8"/><rect x="504.19" width="46.6" height="23.5" fill="#2a46a0"/><rect x="550.63" width="46.6" height="23.5" fill="#2a46a0"/><rect x="597.06" width="46.6" height="23.5" fill="#f09898"/><rect x="643.5" width="46.6" height="23.5" fill="#f09898"/><rect x="689.94" width="46.6" height="23.5" fill="#f09898"/><rect x="736.38" width="46.6" height="23.5" fill="#ee8080"/><rect x="782.81" width="46.6" height="23.5" fill="#ffffff"/><rect x="829.25" width="46.6" height="23.5" fill="#dcdcee"/><rect x="875.69" width="46.6" height="23.5" fill="#2a46a0"/><rect x="922.13" width="46.6" height="23.5" fill="#7c84c0"/><rect x="968.56" width="46.44" height="23.5" fill="#4a62b0"/>
</g>
<g transform="translate(0,1110)">
<rect x="272" width="46.6" height="23.5" fill="#ffffff"/><rect x="318.44" width="46.6" height="23.5" fill="#ffffff"/><rect x="364.88" width="46.6" height="23.5" fill="#6674b8"/><rect x="411.31" width="46.6" height="23.5" fill="#ffffff"/><rect x="457.75" width="46.6" height="23.5" fill="#eeeff6"/><rect x="504.19" width="46.6" height="23.5" fill="#f8e0dc"/><rect x="550.63" width="46.6" height="23.5" fill="#fcf2f0"/><rect x="597.06" width="46.6" height="23.5" fill="#f6d4d0"/><rect x="643.5" width="46.6" height="23.5" fill="#f6c8c8"/><rect x="689.94" width="46.6" height="23.5" fill="#fce8e4"/><rect x="736.38" width="46.6" height="23.5" fill="#f8dcd8"/><rect x="782.81" width="46.6" height="23.5" fill="#ffffff"/><rect x="829.25" width="46.6" height="23.5" fill="#f8dcd8"/><rect x="875.69" width="46.6" height="23.5" fill="#dcdcee"/><rect x="922.13" width="46.6" height="23.5" fill="#9498c8"/><rect x="968.56" width="46.44" height="23.5" fill="#dcdcee"/>
</g>
<g transform="translate(0,1133.33)">
<rect x="272" width="46.6" height="23.5" fill="#fcf0ee"/><rect x="318.44" width="46.6" height="23.5" fill="#fcf0ee"/><rect x="364.88" width="46.6" height="23.5" fill="#f6c8c8"/><rect x="411.31" width="46.6" height="23.5" fill="#f6c8c8"/><rect x="457.75" width="46.6" height="23.5" fill="#eeeff6"/><rect x="504.19" width="46.6" height="23.5" fill="#b8bcdc"/><rect x="550.63" width="46.6" height="23.5" fill="#ffffff"/><rect x="597.06" width="46.6" height="23.5" fill="#f6c8c8"/><rect x="643.5" width="46.6" height="23.5" fill="#f6c8c8"/><rect x="689.94" width="46.6" height="23.5" fill="#f6c8c8"/><rect x="736.38" width="46.6" height="23.5" fill="#f6c8c8"/><rect x="782.81" width="46.6" height="23.5" fill="#ffffff"/><rect x="829.25" width="46.6" height="23.5" fill="#ffffff"/><rect x="875.69" width="46.6" height="23.5" fill="#6674b8"/><rect x="922.13" width="46.6" height="23.5" fill="#6674b8"/><rect x="968.56" width="46.44" height="23.5" fill="#6674b8"/>
</g>
<g transform="translate(0,1156.67)">
<rect x="272" width="46.6" height="23.33" fill="#e4e6f2"/><rect x="318.44" width="46.6" height="23.33" fill="#f8e0dc"/><rect x="364.88" width="46.6" height="23.33" fill="#9ca0d0"/><rect x="411.31" width="46.6" height="23.33" fill="#ffffff"/><rect x="457.75" width="46.6" height="23.33" fill="#fce8e4"/><rect x="504.19" width="46.6" height="23.33" fill="#f2b0b0"/><rect x="550.63" width="46.6" height="23.33" fill="#f2b8b8"/><rect x="597.06" width="46.6" height="23.33" fill="#f6c8c8"/><rect x="643.5" width="46.6" height="23.33" fill="#f8d4d0"/><rect x="689.94" width="46.6" height="23.33" fill="#f4bcbc"/><rect x="736.38" width="46.6" height="23.33" fill="#e4e6f2"/><rect x="782.81" width="46.6" height="23.33" fill="#fcf2f0"/><rect x="829.25" width="46.6" height="23.33" fill="#e8eaf4"/><rect x="875.69" width="46.6" height="23.33" fill="#8c94c8"/><rect x="922.13" width="46.6" height="23.33" fill="#5a6cb4"/><rect x="968.56" width="46.44" height="23.33" fill="#6674b8"/>
</g>
</g>
<rect x="272" y="970" width="743" height="210" fill="none" stroke="#444" stroke-width="0.6"/>
<g stroke="#444" stroke-width="0.6">
<line x1="295" y1="1180" x2="295" y2="1175"/><line x1="387" y1="1180" x2="387" y2="1175"/><line x1="526" y1="1180" x2="526" y2="1175"/><line x1="665" y1="1180" x2="665" y2="1175"/><line x1="804" y1="1180" x2="804" y2="1175"/><line x1="943" y1="1180" x2="943" y2="1175"/>
</g>
<rect x="1027" y="970" width="13" height="210" fill="url(#cb)"/>
<g class="t" font-size="13" fill="#222">
<text x="1046" y="979">≥2</text><text x="1046" y="1029">1</text><text x="1046" y="1080">0</text><text x="1044" y="1132">-1</text><text x="1046" y="1185">≤-2</text>
</g>
<text class="t" font-size="12" fill="#222" transform="translate(1093,1075) rotate(-90)" text-anchor="middle">Log<tspan font-size="8" dy="3">2</tspan><tspan dy="-3"> fold-change</tspan></text>

<g class="t" font-size="17.5" fill="#111" text-anchor="end">
<g transform="translate(265,988) scale(0.9,1)"><text>GOLGA3 (A366): <tspan fill="#a8419d">T</tspan>k<tspan fill="#a8419d">LQ</tspan></text></g>
<g transform="translate(265,1011) scale(0.9,1)"><text>KLHDC10 (G16): Rr<tspan fill="#4e8f2e">GG</tspan></text></g>
<g transform="translate(265,1034) scale(0.9,1)"><text>ATP5F1B (T50): YaA<tspan fill="#a8419d">Q</tspan></text></g>
<g transform="translate(265,1058) scale(0.9,1)"><text>ATAD2 (A950): Ev<tspan fill="#a8419d">LQ</tspan></text></g>
<g transform="translate(265,1081) scale(0.9,1)"><text>XRCC1 (A218): <tspan fill="#a8419d">A</tspan>t<tspan fill="#a8419d">LQ</tspan></text></g>
<g transform="translate(265,1104) scale(0.9,1)"><text>NUCKS1 (F16): DyS<tspan fill="#a8419d">Q</tspan></text></g>
<g transform="translate(265,1128) scale(0.9,1)"><text>MYLK (T340): <tspan fill="#a8419d">P</tspan>v<tspan fill="#a8419d">LQ</tspan></text></g>
<g transform="translate(265,1151) scale(0.9,1)"><text>BST1 (A27): Ae<tspan fill="#4e8f2e">GG</tspan></text></g>
<g transform="translate(265,1174) scale(0.9,1)"><text>KAT7 (S64): Rn<tspan fill="#a8419d">LQ</tspan></text></g>
</g>
<text class="t" font-size="17" fill="#222" transform="translate(78,925) rotate(-90)" text-anchor="middle">Gene name of cleaved protein</text>
<g class="t" font-size="15" fill="#222" text-anchor="middle">
<text x="295" y="1201">0M</text><text x="387" y="1201">0h</text><text x="526" y="1201">6h</text><text x="665" y="1201">12h</text><text x="804" y="1201">24h</text><text x="943" y="1201">24M</text>
</g>
<text class="t" font-size="18" fill="#222" x="642" y="1228" text-anchor="middle">Hours post-infection</text>

<!-- Panel f -->
<text class="l" x="5" y="1280" font-size="38">f</text>
<g class="t" font-size="14" fill="#111">
<text x="138" y="1299" textLength="99" lengthAdjust="spacingAndGlyphs">PNN (C-term)</text>
<text x="262" y="1299" textLength="106" lengthAdjust="spacingAndGlyphs">PAICS (C-term)</text>
<text x="383" y="1299" textLength="96" lengthAdjust="spacingAndGlyphs">SRC (N-term)</text>
<text x="55" y="1318" textLength="84" lengthAdjust="spacingAndGlyphs">+NSP3 (PLP)</text>
<text x="55" y="1334" textLength="96" lengthAdjust="spacingAndGlyphs">+NSP5 (Mpro)</text>
<text x="203" y="1318" text-anchor="middle">+</text><text x="322" y="1318" text-anchor="middle">+</text><text x="440" y="1318" text-anchor="middle">+</text>
<text x="234" y="1334" text-anchor="middle">+</text><text x="356" y="1334" text-anchor="middle">+</text><text x="475" y="1334" text-anchor="middle">+</text>
</g>
<g stroke="#111" stroke-width="0.8"><line x1="138" y1="1302" x2="237" y2="1302"/><line x1="262" y1="1302" x2="368" y2="1302"/><line x1="383" y1="1302" x2="479" y2="1302"/></g>
<rect x="149" y="1339" width="341" height="231" fill="#f6f6f6"/>
<g filter="url(#bl)">
<rect x="153" y="1353" width="27" height="4" rx="2" fill="#444"/>
<rect x="188" y="1353" width="24" height="4" rx="2" fill="#444"/>
<rect x="221" y="1353" width="22" height="3" rx="1.5" fill="#888"/>
<rect x="221" y="1366.5" width="22" height="5" rx="2" fill="#444"/>
<rect x="153" y="1470" width="27" height="2" fill="#ccc"/>
<rect x="188" y="1470" width="24" height="2" fill="#ccc"/>
<rect x="221" y="1469" width="22" height="4" fill="#888"/>
<polygon points="262,1420 275,1425 292,1428 292,1432 275,1430 262,1425" fill="#333"/>
<rect x="301" y="1432" width="27" height="4" rx="2" fill="#333"/>
<rect x="338" y="1433" width="26" height="4" rx="2" fill="#333"/>
<rect x="338" y="1446" width="26" height="3" rx="1.5" fill="#555"/>
<polygon points="380,1402 395,1404 410,1406 410,1409 395,1407 380,1405" fill="#555"/>
<rect x="421" y="1408.5" width="28" height="3" rx="1.5" fill="#888"/>
<rect x="458" y="1411" width="27" height="4.5" rx="2" fill="#444"/>
<rect x="408" y="1543" width="38" height="4" rx="2" fill="#333"/>
<rect x="408" y="1552" width="38" height="4" rx="2" fill="#333"/>
</g>
<g stroke="#111" stroke-width="1" stroke-dasharray="3,2.5"><line x1="249" y1="1339" x2="249" y2="1570"/><line x1="371" y1="1339" x2="371" y2="1570"/></g>
<g class="t" font-size="14" fill="#111" text-anchor="end">
<text x="146" y="1359">115</text><text x="146" y="1405">80</text><text x="146" y="1448">65</text><text x="146" y="1485">50</text><text x="146" y="1560">30</text>
</g>
<text class="t" font-size="11" fill="#111" transform="translate(114,1460) rotate(-90)" text-anchor="middle">Molecular weight  (kDa)</text>

<!-- Panel g -->
<text class="l" x="512" y="1266" font-size="38">g</text>
<g class="t" font-size="16" fill="#111" text-anchor="middle"><text x="630" y="1282">Control</text><text x="731" y="1282">Nsp4-5</text></g>
<g stroke="#111" stroke-width="1.5"><line x1="581" y1="1288" x2="673" y2="1288"/><line x1="689" y1="1288" x2="781" y2="1288"/></g>
<rect x="576" y="1294" width="214" height="51" fill="#e9e9e9"/>
<rect x="576" y="1360" width="214" height="155" fill="#e4e4e4"/>
<rect x="576" y="1525" width="214" height="45" fill="#f6f6f6"/>
<g filter="url(#bl)">
<rect x="579" y="1319" width="31" height="6" rx="3" fill="#333"/><rect x="612" y="1319" width="31" height="6" rx="3" fill="#333"/><rect x="646" y="1319" width="31" height="6" rx="3" fill="#333"/>
<rect x="683" y="1318" width="31" height="10" rx="3" fill="#333"/><rect x="718" y="1317" width="31" height="10" rx="3" fill="#333"/><rect x="755" y="1317" width="31" height="10" rx="3" fill="#333"/>
<rect x="578" y="1378" width="33" height="7" rx="3" fill="#111"/><rect x="612" y="1378" width="31" height="7" rx="3" fill="#111"/><rect x="646" y="1378" width="31" height="7" rx="3" fill="#111"/>
<rect x="683" y="1379" width="31" height="6" rx="3" fill="#222"/><rect x="718" y="1379" width="31" height="5" rx="3" fill="#333"/><rect x="755" y="1379" width="31" height="5" rx="3" fill="#333"/>
<rect x="579" y="1426" width="207" height="4" fill="#cfcfcf"/>
<rect x="579" y="1471" width="98" height="3" fill="#c8c8c8"/>
<rect x="683" y="1469" width="31" height="5" rx="2" fill="#777"/><rect x="718" y="1468" width="31" height="5" rx="2" fill="#777"/><rect x="755" y="1468" width="31" height="5" rx="2" fill="#777"/>
<rect x="579" y="1489" width="207" height="4" fill="#c4c4c4"/>
<rect x="579" y="1545" width="31" height="5" rx="2" fill="#222"/><rect x="612" y="1545" width="31" height="5" rx="2" fill="#222"/><rect x="646" y="1546" width="31" height="5" rx="2" fill="#222"/>
<rect x="683" y="1546" width="31" height="5" rx="2" fill="#222"/><rect x="718" y="1546" width="31" height="5" rx="2" fill="#222"/><rect x="755" y="1545" width="31" height="5" rx="2" fill="#222"/>
</g>
<g class="t" font-size="13" fill="#111" text-anchor="end">
<text x="575" y="1310">55-</text><text x="575" y="1338">40-</text>
<text x="575" y="1393">180-</text><text x="575" y="1416">130-</text><text x="575" y="1449">100-</text><text x="575" y="1477">70-</text><text x="575" y="1505">55-</text>
<text x="575" y="1537">70-</text><text x="575" y="1566">55-</text>
</g>
<text class="t" font-size="11" fill="#111" transform="translate(520,1416) rotate(-90)" text-anchor="middle">Molecular weight  (kDa)</text>
<g class="t" font-size="16" fill="#111">
<text x="821" y="1323">anti-PAICS (C-term)</text>
<text x="821" y="1433">anti-GOLGA3 (C-term)</text>
<text x="821" y="1551">anti-β-tubulin</text>
</g>
</svg>
</body></html>
